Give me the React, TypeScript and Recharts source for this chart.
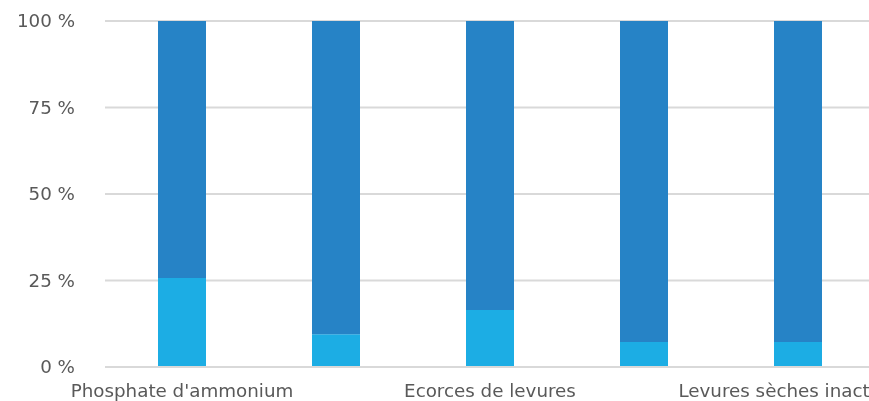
import React from "react";
import { BarChart, Bar, XAxis, YAxis, CartesianGrid } from "recharts";

const categories = [
  "Phosphate d'ammonium",
  "Sulfate d'ammonium",
  "Ecorces de levures",
  "Levures autolysées",
  "Levures sèches inactivées",
];
const lightValues = [25.7, 9.5, 16.5, 7.2, 7.2];
const darkValues = [74.3, 90.5, 83.5, 92.8, 92.8];
const yTicks = [0, 25, 50, 75, 100];

const data = categories.map((name, i) => ({
  name,
  light: lightValues[i],
  dark: darkValues[i],
}));

const FONT = "'DejaVu Sans', sans-serif";
const tickStyle = { fill: "#595959", fontSize: 18.3, fontFamily: FONT };

export default function App() {
  return (
    <div
      style={{
        position: "fixed",
        left: 8,
        top: 8,
        width: 861,
        height: 393,
        overflow: "hidden",
      }}
    >
      <BarChart
        width={880}
        height={393}
        data={data}
        margin={{ top: 13, right: 13, bottom: 0, left: 0 }}
        barSize={48}
      >
        <CartesianGrid
          vertical={false}
          horizontal={true}
          stroke="#D9D9D9"
          strokeWidth={2}
        />
        <XAxis
          dataKey="name"
          interval={1}
          tickLine={false}
          tickSize={0}
          tickMargin={17}
          height={34}
          axisLine={{ stroke: "#D9D9D9", strokeWidth: 2 }}
          tick={tickStyle}
        />
        <YAxis
          width={97}
          domain={[0, 100]}
          ticks={yTicks}
          tickFormatter={(v: number) => `${v} %`}
          axisLine={false}
          tickLine={false}
          tickSize={0}
          tickMargin={30}
          tick={tickStyle}
        />
        <Bar dataKey="light" stackId="a" fill="#1CADE4" isAnimationActive={false} />
        <Bar dataKey="dark" stackId="a" fill="#2683C6" isAnimationActive={false} />
      </BarChart>
    </div>
  );
}
